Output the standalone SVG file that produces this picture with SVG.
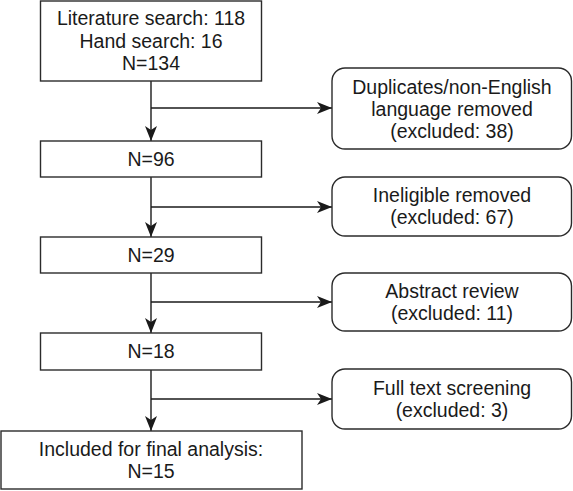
<svg xmlns="http://www.w3.org/2000/svg" width="573" height="491" viewBox="0 0 573 491">
<style>
  .box { fill: #fff; stroke: #2b2b2b; stroke-width: 1.4; }
  .t { font-family: "Liberation Sans", Arial, Helvetica, sans-serif; font-size: 19.5px; fill: #1a1a1a; text-anchor: middle; }
  .ln { fill: none; stroke: #1a1a1a; stroke-width: 1.4; }
</style>
<defs>
  <marker id="ah" viewBox="-16 -7 16 14" refX="0" refY="0" markerWidth="16" markerHeight="14" markerUnits="userSpaceOnUse" orient="auto">
    <path d="M0,0 L-15,-6 L-11,0 L-15,6 Z" fill="#1a1a1a"/>
  </marker>
</defs>
<rect width="573" height="491" fill="#fff"/>

<g id="connectors">
  <path class="ln" d="M151,81 V141" marker-end="url(#ah)"/>
  <path class="ln" d="M151,108 H332" marker-end="url(#ah)"/>
  <path class="ln" d="M151,177 V237" marker-end="url(#ah)"/>
  <path class="ln" d="M151,207 H332" marker-end="url(#ah)"/>
  <path class="ln" d="M151,273 V333" marker-end="url(#ah)"/>
  <path class="ln" d="M151,302 H332" marker-end="url(#ah)"/>
  <path class="ln" d="M151,370 V431" marker-end="url(#ah)"/>
  <path class="ln" d="M151,399 H332" marker-end="url(#ah)"/>
</g>

<g id="n-search">
  <rect class="box" x="40.5" y="1" width="221" height="80"/>
  <text class="t" x="151" y="25">Literature search: 118</text>
  <text class="t" x="151" y="48">Hand search: 16</text>
  <text class="t" x="151" y="70">N=134</text>
</g>
<g id="n-96">
  <rect class="box" x="40.5" y="141" width="221" height="36"/>
  <text class="t" x="151" y="166">N=96</text>
</g>
<g id="n-29">
  <rect class="box" x="40.5" y="237" width="221" height="36"/>
  <text class="t" x="151" y="262">N=29</text>
</g>
<g id="n-18">
  <rect class="box" x="40.5" y="333" width="221" height="37"/>
  <text class="t" x="151" y="358">N=18</text>
</g>
<g id="n-final">
  <rect class="box" x="1" y="431" width="301" height="58"/>
  <text class="t" x="151" y="456">Included for final analysis:</text>
  <text class="t" x="151" y="478">N=15</text>
</g>

<g id="x-duplicates">
  <rect class="box" x="332" y="68" width="239.5" height="81" rx="13"/>
  <text class="t" x="452" y="94">Duplicates/non-English</text>
  <text class="t" x="452" y="116">language removed</text>
  <text class="t" x="452" y="138">(excluded: 38)</text>
</g>
<g id="x-ineligible">
  <rect class="box" x="332" y="177" width="239.5" height="59" rx="13"/>
  <text class="t" x="452" y="202">Ineligible removed</text>
  <text class="t" x="452" y="224">(excluded: 67)</text>
</g>
<g id="x-abstract">
  <rect class="box" x="332" y="273" width="239.5" height="58" rx="13"/>
  <text class="t" x="452" y="298">Abstract review</text>
  <text class="t" x="452" y="320">(excluded: 11)</text>
</g>
<g id="x-fulltext">
  <rect class="box" x="332" y="369" width="239.5" height="60" rx="13"/>
  <text class="t" x="452" y="395">Full text screening</text>
  <text class="t" x="452" y="417">(excluded: 3)</text>
</g>
</svg>
